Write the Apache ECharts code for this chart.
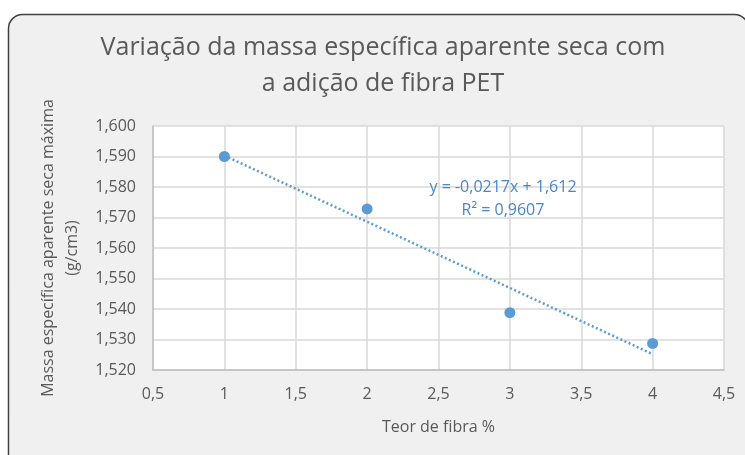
<!DOCTYPE html>
<html>
<head>
<meta charset="utf-8">
<script src="https://cdn.jsdelivr.net/npm/echarts@6/dist/echarts.min.js"></script>
<style>
  html, body { margin: 0; padding: 0; background: #fff; }
  #chart { width: 745px; height: 455px; }
</style>
</head>
<body>
<div id="chart"></div>
<script>
// dados
const teorFibra = [1, 2, 3, 4];
const massaEspecifica = [1.590, 1.5728, 1.5388, 1.5287];
// linha de tendência (equação mostrada no gráfico)
const slope = -0.0217;
const intercept = 1.612;
const trendX = [1, 4];

const fmt = (v, d) => v.toFixed(d).replace('.', ',');

const chart = echarts.init(document.getElementById('chart'));
const option = {
  backgroundColor: '#fff',
  textStyle: { fontFamily: 'Open Sans' },
  graphic: [
    {
      type: 'rect',
      z: -10,
      shape: { x: 8.5, y: 14.5, width: 740, height: 470, r: 14 },
      style: { fill: '#f0f0f0', stroke: '#404040', lineWidth: 1.5 }
    },
    // título
    {
      type: 'text',
      x: 383,
      y: 30,
      z: 10,
      style: {
        text: 'Variação da massa específica aparente seca com\na adição de fibra PET',
        fill: '#595959',
        font: '25px "Open Sans"',
        lineHeight: 36,
        align: 'center',
        verticalAlign: 'top'
      }
    },
    {
      type: 'text',
      x: 503,
      y: 187,
      z: 10,
      style: {
        text: 'y = -0,0217x + 1,612',
        fill: '#4a86c8',
        font: '16px "Open Sans"',
        align: 'center',
        verticalAlign: 'middle'
      }
    },
    {
      type: 'text',
      x: 503,
      y: 210,
      z: 10,
      style: {
        text: 'R² = 0,9607',
        fill: '#4a86c8',
        font: '16px "Open Sans"',
        align: 'center',
        verticalAlign: 'middle'
      }
    }
  ],
  grid: {
    left: 153,
    right: 21,
    top: 126,
    bottom: 85,
    show: true,
    backgroundColor: '#fff',
    borderWidth: 0
  },
  xAxis: {
    type: 'value',
    min: 0.5,
    max: 4.5,
    interval: 0.5,
    name: 'Teor de fibra %',
    nameLocation: 'middle',
    nameGap: 49,
    nameTextStyle: { color: '#595959', fontSize: 16 },
    axisLine: { lineStyle: { color: '#bfbfbf', width: 1.5 } },
    axisTick: { show: false },
    axisLabel: {
      color: '#595959',
      fontSize: 16,
      margin: 16,
      formatter: v => String(v).replace('.', ',')
    },
    splitLine: { show: true, lineStyle: { color: '#d9d9d9', width: 1.5 } }
  },
  yAxis: {
    type: 'value',
    min: 1.52,
    max: 1.60,
    interval: 0.01,
    name: 'Massa específica aparente seca máxima\n(g/cm3)',
    nameLocation: 'middle',
    nameGap: 66,
    nameRotate: 90,
    nameTextStyle: { color: '#595959', fontSize: 16, lineHeight: 24 },
    axisLine: { show: true, lineStyle: { color: '#bfbfbf', width: 1.5 } },
    axisTick: { show: false },
    axisLabel: {
      color: '#595959',
      fontSize: 16,
      margin: 17,
      formatter: v => fmt(v, 3)
    },
    splitLine: { show: true, lineStyle: { color: '#d9d9d9', width: 1.5 } }
  },
  series: [
    {
      type: 'line',
      data: trendX.map(x => [x, slope * x + intercept]),
      symbol: 'none',
      silent: true,
      lineStyle: { color: '#5b9bd5', width: 2.5, type: [2, 2.5] },
      z: 2
    },
    {
      type: 'scatter',
      data: teorFibra.map((x, i) => [x, massaEspecifica[i]]),
      symbol: 'circle',
      symbolSize: 11,
      itemStyle: { color: '#5b9bd5', opacity: 1 },
      z: 3
    }
  ]
};
chart.setOption(option);

window.addEventListener('resize', function () {
  chart.resize();
});
</script>
</body>
</html>
